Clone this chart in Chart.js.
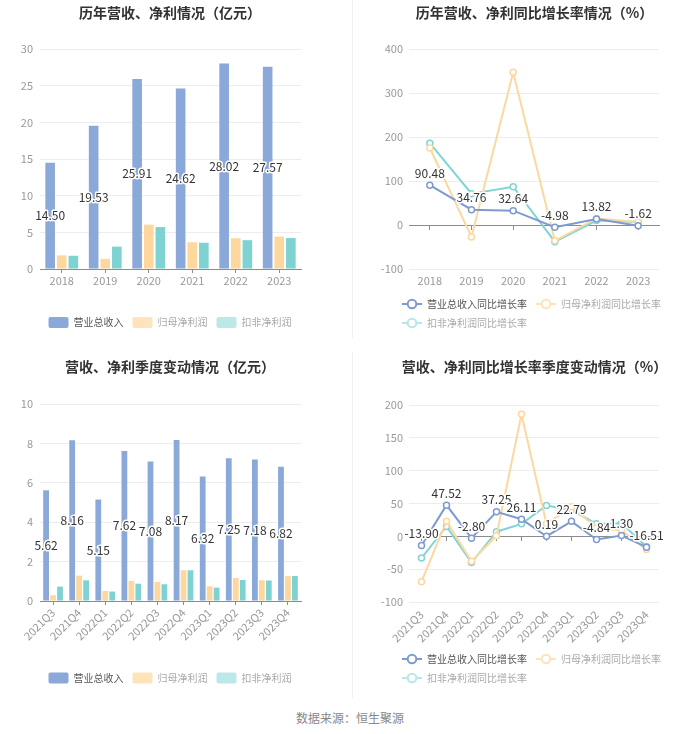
<!DOCTYPE html>
<html><head><meta charset="utf-8">
<script src="https://cdn.jsdelivr.net/npm/chart.js@4.4.1/dist/chart.umd.min.js"></script>
<style>
html,body{margin:0;padding:0;background:#fff;width:700px;height:734px;overflow:hidden;}
.box{position:absolute;}
canvas{display:block;}
#src{position:absolute;left:0;width:700px;top:709px;text-align:center;font:12px 'Microsoft YaHei','Noto Sans CJK SC',sans-serif;color:#888;}
.sep{position:absolute;background:#f0f0f0;width:1px;left:352px;}
</style></head><body>
<div class="sep" style="top:0;height:338px"></div>
<div class="sep" style="top:352px;height:346px"></div>
<div class="box" style="left:0;top:0"><canvas id="c1" width="345" height="345"></canvas></div>
<div class="box" style="left:350px;top:0"><canvas id="c2" width="350" height="345"></canvas></div>
<div class="box" style="left:0;top:350px"><canvas id="c3" width="345" height="350"></canvas></div>
<div class="box" style="left:350px;top:350px"><canvas id="c4" width="350" height="350"></canvas></div>
<div id="src">数据来源：恒生聚源</div>
<script>
// ---------- data ----------
const years = ['2018','2019','2020','2021','2022','2023'];
const revenue = [14.50, 19.53, 25.91, 24.62, 28.02, 27.57];
const netProfit = [1.85, 1.38, 6.05, 3.65, 4.20, 4.42];
const deductedProfit = [1.80, 3.05, 5.72, 3.58, 3.93, 4.22];

const revenueYoY = [90.48, 34.76, 32.64, -4.98, 13.82, -1.62];
const netProfitYoY = [175, -27, 347, -36, 15, 7];
const deductedProfitYoY = [186, 71, 87, -38, 10, 7];

const quarters = ['2021Q3','2021Q4','2022Q1','2022Q2','2022Q3','2022Q4','2023Q1','2023Q2','2023Q3','2023Q4'];
const qRevenue = [5.62, 8.16, 5.15, 7.62, 7.08, 8.17, 6.32, 7.25, 7.18, 6.82];
const qNetProfit = [0.29, 1.29, 0.51, 1.02, 0.97, 1.56, 0.75, 1.17, 1.05, 1.26];
const qDeductedProfit = [0.73, 1.05, 0.48, 0.88, 0.85, 1.56, 0.68, 1.07, 1.04, 1.27];

const qRevenueYoY = [-13.90, 47.52, -2.80, 37.25, 26.11, 0.19, 22.79, -4.84, 1.30, -16.51];
const qNetProfitYoY = [-69, 23, -38, 1, 186, 19, 45, 13, 9, -20];
const qDeductedProfitYoY = [-33, 15, -40, 7, 19, 47, 40, 19, 20, -16];

const annualAmountTicks = [0, 5, 10, 15, 20, 25, 30];
const annualRateTicks = [-100, 0, 100, 200, 300, 400];
const quarterAmountTicks = [0, 2, 4, 6, 8, 10];
const quarterRateTicks = [-100, -50, 0, 50, 100, 150, 200];

const barSeriesNames = ['营业总收入', '归母净利润', '扣非净利润'];
const rateSeriesNames = ['营业总收入同比增长率', '归母净利润同比增长率', '扣非净利润同比增长率'];

// ---------- styles ----------
const FONT = "'Microsoft YaHei','Noto Sans CJK SC','Noto Sans',sans-serif";
Chart.defaults.font.family = FONT;
Chart.defaults.animation = false;
const BAR_COLORS = ['#8aa8d8', '#fdd79d', '#7fd2d2'];
const BAR_LEGEND = ['#8aa8d8', '#fee3bb', '#bde8e8'];
const LINE_COLORS = ['#7e9bd1', '#fcd79f', '#81d3d5'];
const LINE_LEGEND = ['#7e9bd1', '#fde2bb', '#b8e6e9'];
const LEGEND_TEXT = ['#555', '#aaa', '#aaa'];
const GRID = '#ebedf0';
const AXIS = '#8c8c8c';
const TICK = '#999';

function lineIcon(color) {
  const c = document.createElement('canvas');
  c.width = 20; c.height = 12;
  const x = c.getContext('2d');
  x.strokeStyle = color; x.lineWidth = 2;
  x.beginPath(); x.moveTo(0, 6); x.lineTo(20, 6); x.stroke();
  x.fillStyle = '#fff';
  x.beginPath(); x.arc(10, 6, 4.3, 0, Math.PI * 2); x.fill(); x.stroke();
  return c;
}
const LINE_ICONS = LINE_LEGEND.map(lineIcon);

const valueLabels = {
  id: 'valueLabels',
  afterDatasetsDraw(chart, args, opts) {
    const ctx = chart.ctx;
    const meta = chart.getDatasetMeta(0);
    const data = chart.data.datasets[0].data;
    ctx.save();
    ctx.font = '12px ' + FONT;
    ctx.textAlign = 'center';
    ctx.textBaseline = 'middle';
    ctx.lineJoin = 'round';
    meta.data.forEach((el, i) => {
      const txt = data[i].toFixed(2);
      const x = el.x;
      const y = opts.mode === 'bar' ? (el.y + el.base) / 2 : el.y - 12;
      ctx.strokeStyle = '#fff'; ctx.lineWidth = 3; ctx.strokeText(txt, x, y);
      ctx.fillStyle = '#333'; ctx.fillText(txt, x, y);
    });
    ctx.restore();
  }
};

function titleOpts(text, top, bottom) {
  return { display: true, text, color: '#333', font: { size: 14, weight: 'bold' }, padding: { top, bottom } };
}

function barLegend() {
  return {
    position: 'bottom',
    labels: {
      boxWidth: 20, boxHeight: 11, useBorderRadius: true, borderRadius: 2,
      padding: 9, font: { size: 10 },
      generateLabels: chart => chart.data.datasets.map((ds, i) => ({
        text: ds.label, fillStyle: BAR_LEGEND[i], strokeStyle: 'rgba(0,0,0,0)', lineWidth: 0,
        fontColor: LEGEND_TEXT[i], hidden: !chart.isDatasetVisible(i), datasetIndex: i, borderRadius: 2
      }))
    }
  };
}
function lineLegend() {
  return {
    position: 'bottom', align: 'start',
    labels: {
      usePointStyle: true, pointStyleWidth: 20, boxHeight: 10,
      padding: 9, font: { size: 10 },
      generateLabels: chart => chart.data.datasets.map((ds, i) => ({
        text: ds.label, pointStyle: LINE_ICONS[i], fillStyle: 'rgba(0,0,0,0)', strokeStyle: 'rgba(0,0,0,0)', lineWidth: 0,
        fontColor: LEGEND_TEXT[i], hidden: !chart.isDatasetVisible(i), datasetIndex: i
      }))
    }
  };
}

// y axis: fixed box width, labels allowed to extend left of the box
function yAxis(ticks, width, pad) {
  return {
    min: ticks[0], max: ticks[ticks.length - 1],
    ticks: { stepSize: ticks[1] - ticks[0], color: TICK, font: { size: 11 }, padding: pad },
    grid: { color: GRID, drawTicks: false },
    border: { display: false },
    afterFit: s => { s.width = width; s._computeLabelArea = () => undefined; }
  };
}
function spacerAxis(width) {
  return {
    position: 'right', display: true,
    grid: { display: false, drawTicks: false }, border: { display: false },
    ticks: { display: false },
    afterFit: s => { s.width = width; }
  };
}

function barChart(id, labels, series, ticks, title, cfg) {
  new Chart(document.getElementById(id), {
    type: 'bar',
    data: {
      labels,
      datasets: series.map((d, i) => ({
        label: barSeriesNames[i], data: d, backgroundColor: BAR_COLORS[i],
        categoryPercentage: 0.8, barPercentage: 0.83
      }))
    },
    options: {
      responsive: false,
      layout: { padding: { left: 39, right: 44, top: 0, bottom: cfg.padBottom } },
      plugins: {
        title: titleOpts(title, cfg.titleTop, cfg.titleBottom),
        legend: barLegend(),
        tooltip: { enabled: false },
        valueLabels: { mode: 'bar' }
      },
      scales: {
        x: {
          grid: { display: true, drawOnChartArea: false, drawTicks: true, tickLength: 4, offset: false, color: AXIS },
          border: { display: true, color: AXIS },
          ticks: { color: TICK, font: { size: 11 }, padding: cfg.xPad, autoSkip: false,
                   minRotation: cfg.rot, maxRotation: cfg.rot },
          afterFit: s => { s.height = cfg.xHeight; }
        },
        y: yAxis(ticks, 1, 7)
      }
    },
    plugins: [valueLabels]
  });
}

function lineChart(id, labels, series, ticks, title, cfg) {
  new Chart(document.getElementById(id), {
    type: 'line',
    data: {
      labels,
      datasets: series.map((d, i) => ({
        label: rateSeriesNames[i], data: d, borderColor: LINE_COLORS[i], borderWidth: 2,
        pointRadius: 3, pointBorderWidth: 1.5, pointBackgroundColor: '#fff', pointBorderColor: LINE_COLORS[i],
        tension: 0, fill: false
      }))
    },
    options: {
      responsive: false,
      layout: { padding: { left: 43, right: 24, top: 0, bottom: cfg.padBottom } },
      plugins: {
        title: titleOpts(title, cfg.titleTop, cfg.titleBottom),
        legend: lineLegend(),
        tooltip: { enabled: false },
        valueLabels: { mode: 'line' }
      },
      scales: {
        x: {
          offset: true,
          grid: { display: false, drawTicks: false },
          border: { display: false },
          ticks: { color: TICK, font: { size: 11 }, padding: cfg.xPad, autoSkip: false,
                   minRotation: cfg.rot, maxRotation: cfg.rot },
          afterFit: s => { s.height = cfg.xHeight; }
        },
        x0: {
          axis: 'x', type: 'category', labels, offset: true, position: { y: 0 },
          grid: { display: true, drawOnChartArea: false, drawTicks: true, tickLength: 4, offset: false, color: AXIS },
          border: { display: true, color: AXIS },
          ticks: { display: false }
        },
        y: yAxis(ticks, 16, 6),
        yR: spacerAxis(17)
      }
    },
    plugins: [valueLabels]
  });
}

barChart('c1', years, [revenue, netProfit, deductedProfit], annualAmountTicks,
  '历年营收、净利情况（亿元）',
  { padBottom: 7, titleTop: 4.6, titleBottom: 27.6, xHeight: 39, xPad: 1, rot: 0 });

lineChart('c2', years, [revenueYoY, netProfitYoY, deductedProfitYoY], annualRateTicks,
  '历年营收、净利同比增长率情况（%）',
  { padBottom: 7, titleTop: 4.6, titleBottom: 27.6, xHeight: 21, xPad: 5, rot: 0 });

barChart('c3', quarters, [qRevenue, qNetProfit, qDeductedProfit], quarterAmountTicks,
  '营收、净利季度变动情况（亿元）',
  { padBottom: 6.5, titleTop: 8.6, titleBottom: 28.6, xHeight: 62.5, xPad: 1, rot: 45 });

lineChart('c4', quarters, [qRevenueYoY, qNetProfitYoY, qDeductedProfitYoY], quarterRateTicks,
  '营收、净利同比增长率季度变动情况（%）',
  { padBottom: 7, titleTop: 8.6, titleBottom: 29.6, xHeight: 43, xPad: 6, rot: 45 });
</script>
</body></html>
